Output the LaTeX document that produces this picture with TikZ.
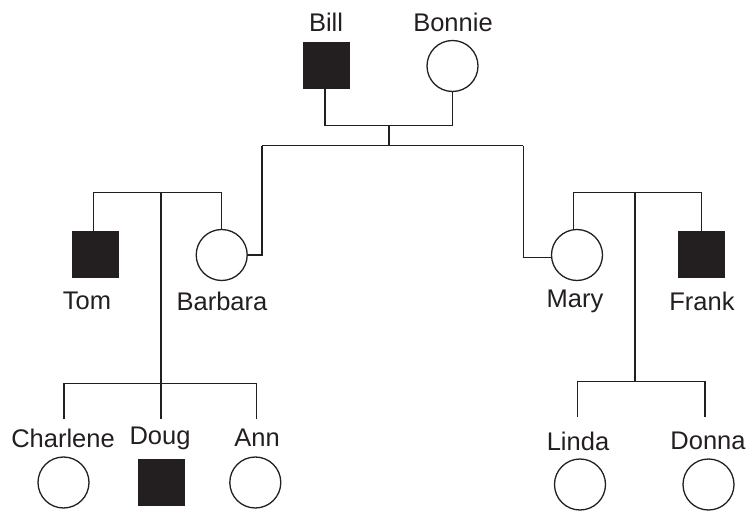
\documentclass[tikz,border=0pt]{standalone}
\usepackage{fontspec}
\setmainfont{Liberation Sans}
\definecolor{ink}{HTML}{231F20}
\begin{document}
\begin{tikzpicture}[x=1pt,y=-1pt,
  line width=1.3pt, draw=ink,
  male/.style={rectangle, draw=ink, fill=ink, minimum size=46pt, inner sep=0pt, line width=1pt},
  female/.style={circle, draw=ink, fill=white, minimum size=51pt, inner sep=0pt, line width=1.3pt},
  pname/.style={text=ink, inner sep=0pt, font=\fontsize{25.5}{30}\selectfont},
  link/.style={draw=ink, line width=1.3pt}]
\useasboundingbox (0,0) rectangle (750,513);
% people
\node[male]   (Bill)     at (326.5,66) {};
\node[female] (Bonnie)   at (452.5,66) {};
\node[male]   (Tom)      at (95.3,255) {};
\node[female] (Barbara)  at (221.7,255) {};
\node[female] (Mary)     at (577,255) {};
\node[male]   (Frank)    at (701.7,255) {};
\node[female] (Charlene) at (63.5,482.5) {};
\node[male]   (Doug)     at (161.7,482.7) {};
\node[female] (Ann)      at (255.3,482.5) {};
\node[female] (Linda)    at (580,484.5) {};
\node[female] (Donna)    at (708.5,484.5) {};
% labels
\node[pname] (lBill)     at (326,22)  {Bill};
\node[pname] (lBonnie)   at (453,22)  {Bonnie};
\node[pname] (lTom)      at (87,301)  {Tom};
\node[pname] (lBarbara)  at (222,301) {Barbara};
\node[pname] (lMary)     at (575,301) {Mary};
\node[pname] (lFrank)    at (702,301) {Frank};
\node[pname] (lCharlene) at (63,438)  {Charlene};
\node[pname] (lDoug)     at (160,438) {Doug};
\node[pname] (lAnn)      at (257,438) {Ann};
\node[pname] (lLinda)    at (578,441) {Linda};
\node[pname] (lDonna)    at (708,441) {Donna};
% junction coordinates
\coordinate (m1) at (389,125.7);
\coordinate (c1) at (389,145.7);
\coordinate (sL) at (262,145.7);
\coordinate (sR) at (523.3,145.7);
\coordinate (m2) at (161,192.7);
\coordinate (c2) at (161,383.3);
\coordinate (d2) at (161,419.3);
\coordinate (k1) at (64,383.3);
\coordinate (k1e) at (64,419.3);
\coordinate (k3) at (256.7,383.3);
\coordinate (k3e) at (256.7,419.3);
\coordinate (m3) at (635,192.7);
\coordinate (c3) at (635,381.7);
\coordinate (j1) at (577.3,381.7);
\coordinate (j1e) at (577.3,417.3);
\coordinate (j2) at (705,381.7);
\coordinate (j2e) at (705,417.3);
% connectors
\draw[link] ([xshift=-1.5pt]Bill.south) |- (m1) -| (Bonnie.south);
\draw[link] (m1) -- (c1);
\draw[link] (sL) -- (sR);
\draw[link] (sL) |- (Barbara.east);
\draw[link] (sR) |- ([yshift=-2.5pt]Mary.west);
\draw[link] ([xshift=-2pt]Tom.north) |- (m2) -| (Barbara.north);
\draw[link] (m2) -- (d2);
\draw[link] (k1e) -- (k1) -- (k3) -- (k3e);
\draw[link] ([xshift=-3.3pt]Mary.north) |- (m3) -| (Frank.north);
\draw[link] (m3) -- (c3);
\draw[link] (j1e) -- (j1) -- (j2) -- (j2e);
\end{tikzpicture}
\end{document}
